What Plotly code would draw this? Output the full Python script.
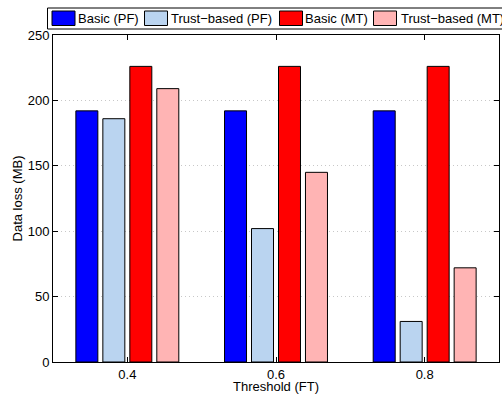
import plotly.graph_objects as go

# Data loss per detection threshold, for each scheme
thresholds = [0.4, 0.6, 0.8]
tick_labels = ["0.4", "0.6", "0.8"]
basic_pf = [192, 192, 192]
trust_pf = [186, 102, 31]
basic_mt = [226, 226, 226]
trust_mt = [209, 145, 72]

series_names = ["Basic (PF)", "Trust\u2212based (PF)", "Basic (MT)", "Trust\u2212based (MT)"]
series_values = [basic_pf, trust_pf, basic_mt, trust_mt]
colors = ["#0000FF", "#BAD4F0", "#FF0000", "#FFB4B4"]

W, H = 502, 394
L, R, T, B = 53, 3, 35, 32
PW, PH = W - L - R, H - T - B
FONT = "Liberation Sans, Arial, Helvetica, sans-serif"
FS = 13


def fx(px):
    return (px - L) / PW


def fy(py):
    return (H - B - py) / PH


fig = go.Figure()
for name, vals, col in zip(series_names, series_values, colors):
    fig.add_trace(go.Bar(
        x=thresholds, y=vals, name=name,
        marker=dict(color=col, line=dict(color="black", width=1)),
        showlegend=False,
    ))

# Boxed legend strip along the top
shapes = [dict(type="rect", xref="paper", yref="paper",
               x0=fx(47.5), x1=fx(520), y0=fy(29), y1=fy(8),
               fillcolor="white", line=dict(color="black", width=1))]
annotations = []
swatch_x = [52, 144.5, 279.5, 373.5]
text_x = [77, 170, 304, 399.5]
for sx, tx, name, col in zip(swatch_x, text_x, series_names, colors):
    shapes.append(dict(type="rect", xref="paper", yref="paper",
                       x0=fx(sx), x1=fx(sx + 23), y0=fy(25.5), y1=fy(11),
                       fillcolor=col, line=dict(color="black", width=1)))
    annotations.append(dict(xref="paper", yref="paper", x=fx(tx), y=fy(18.5),
                            text=name, showarrow=False, xanchor="left",
                            yanchor="middle", xshift=-1,
                            font=dict(family=FONT, size=FS, color="black")))

fig.update_layout(
    width=W, height=H,
    margin=dict(l=L, r=R, t=T, b=B, pad=0),
    paper_bgcolor="white", plot_bgcolor="white",
    barmode="group", bargap=0.274, bargroupgap=0.185,
    font=dict(family=FONT, size=FS, color="black"),
    shapes=shapes, annotations=annotations,
)
fig.update_xaxes(
    range=[0.3, 0.9], tickvals=thresholds, ticktext=tick_labels,
    ticks="inside", ticklen=5, tickcolor="black", mirror="ticks",
    showline=True, linecolor="black", linewidth=1, showgrid=False,
    zeroline=False,
    title=dict(text="Threshold (FT)", standoff=1, font=dict(size=FS)),
)
fig.update_yaxes(
    range=[0, 250], tickvals=[0, 50, 100, 150, 200, 250],
    ticks="inside", ticklen=5, tickcolor="black", mirror="ticks",
    showline=True, linecolor="black", linewidth=1,
    showgrid=True, gridcolor="#C8C8C8", griddash="1px,3px", gridwidth=1,
    zeroline=False,
    title=dict(text="Data loss (MB)", standoff=2, font=dict(size=FS)),
)

fig.write_html("out.html")
